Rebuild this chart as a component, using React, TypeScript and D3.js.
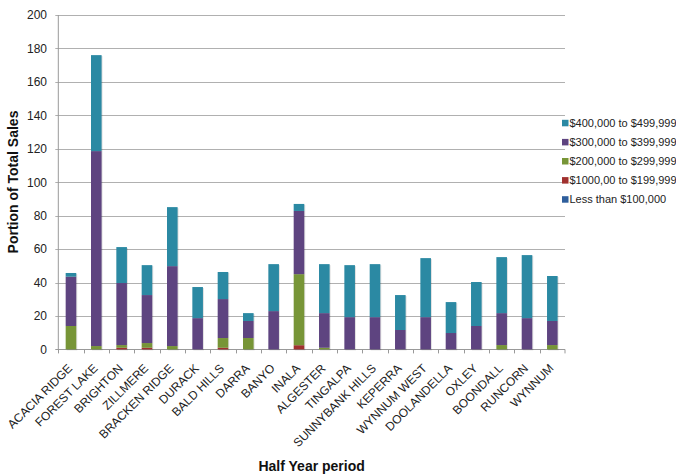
import React from "react";
import * as d3 from "d3";

const categories = [
  "ACACIA RIDGE", "FOREST LAKE", "BRIGHTON", "ZILLMERE", "BRACKEN RIDGE",
  "DURACK", "BALD HILLS", "DARRA", "BANYO", "INALA",
  "ALGESTER", "TINGALPA", "SUNNYBANK HILLS", "KEPERRA", "WYNNUM WEST",
  "DOOLANDELLA", "OXLEY", "BOONDALL", "RUNCORN", "WYNNUM",
];

const seriesNames = [
  "Less than $100,000",
  "$1000,00 to $199,999",
  "$200,000 to $299,999",
  "$300,000 to $399,999",
  "$400,000 to $499,999",
];

const lessThan100k = [0, 0, 0, 0, 0, 0, 0, 0, 0, 0, 0, 0, 0, 0, 0, 0, 0, 0, 0, 0];
const from100kTo199k = [0, 0, 1, 1, 0, 0, 1, 0, 0, 2.5, 0, 0, 0, 0, 0, 0, 0, 0, 0, 0];
const from200kTo299k = [14, 2, 1.6, 2.8, 2, 0, 5.8, 6.8, 0, 42.5, 1, 0, 0, 0, 0, 0, 0, 2.6, 0, 2.6];
const from300kTo399k = [29.5, 116.6, 37.1, 28.7, 47.8, 18.7, 23.3, 10.2, 22.9, 37.8, 20.7, 19.3, 19.3, 11.6, 19.3, 9.8, 14, 19.1, 18.7, 14.4];
const from400kTo499k = [2.2, 57.4, 21.5, 17.9, 35.3, 18.6, 16.2, 4.7, 28.1, 4.2, 29.3, 31.1, 31.7, 20.9, 35.3, 18.5, 26.3, 33.5, 37.7, 26.9];

const yTicks = [0, 20, 40, 60, 80, 100, 120, 140, 160, 180, 200];

const seriesValues = [lessThan100k, from100kTo199k, from200kTo299k, from300kTo399k, from400kTo499k];
const colors = ["#2E5E9C", "#A0302E", "#779537", "#5E4480", "#2B89A3"];

const W = 676;
const H = 476;
const plot = { left: 58.3, right: 565, top: 15, bottom: 349.4 };
const FONT = "'Liberation Sans', Arial, sans-serif";

export default function App() {
  const x = d3.scaleBand<string>().domain(categories).range([plot.left, plot.right]).padding(0);
  const y = d3.scaleLinear().domain([0, 200]).range([plot.bottom, plot.top]);

  const rows = categories.map((c, i) => {
    const r: any = { cat: c };
    seriesNames.forEach((s, k) => (r[s] = seriesValues[k][i]));
    return r;
  });
  const stacked = d3.stack<any>().keys(seriesNames)(rows);

  const bw = 10.6;
  const bandW = x.bandwidth();

  return (
    <svg width={W} height={H} style={{ position: "absolute", left: 0, top: 0, background: "#fff" }} fontFamily={FONT}>
      {/* gridlines */}
      {yTicks.map((t) => (
        <line key={"g" + t} x1={plot.left - 3} x2={plot.right} y1={Math.round(y(t)) + 0.5} y2={Math.round(y(t)) + 0.5}
          stroke={t === 0 ? "#999" : "#b0b0b0"} strokeWidth={1} />
      ))}
      {/* y axis line */}
      <line x1={plot.left} x2={plot.left} y1={plot.top} y2={plot.bottom + 0.5} stroke="#999" />
      {/* y tick labels */}
      {yTicks.map((t) => (
        <text key={"yl" + t} x={47} y={y(t) + 4.3} textAnchor="end" fontSize={12} fill="#222">{t}</text>
      ))}
      {/* x ticks */}
      {categories.map((c, i) => (
        <line key={"xt" + i} x1={Math.round(x(c)!) + 0.5} x2={Math.round(x(c)!) + 0.5} y1={plot.bottom} y2={plot.bottom + 4} stroke="#999" />
      ))}
      <line x1={plot.right} x2={plot.right} y1={plot.bottom} y2={plot.bottom + 4} stroke="#999" />
      {/* bar shadows */}
      {categories.map((c, i) => {
        const top = stacked[stacked.length - 1][i][1];
        const cx = x(c)! + bandW / 2;
        return (
          <rect key={"sh" + i} x={cx - bw / 2 + 1} y={y(top) + 1} width={bw} height={plot.bottom - y(top)} fill="#000" opacity={0.12} />
        );
      })}
      {/* bars */}
      {stacked.map((layer, k) => (
        <g key={"s" + k} fill={colors[k]}>
          {layer.map((d, i) => {
            const h = y(d[0]) - y(d[1]);
            if (h <= 0) return null;
            const cx = x(categories[i])! + bandW / 2;
            return <rect key={i} x={cx - bw / 2} y={y(d[1])} width={bw} height={h} />;
          })}
        </g>
      ))}
      {/* x labels */}
      {categories.map((c) => {
        const cx = x(c)! + bandW / 2 + 2;
        return (
          <text key={"xl" + c} transform={`translate(${cx},${369}) rotate(-45)`} textAnchor="end" fontSize={12} fill="#222">{c}</text>
        );
      })}
      {/* axis titles */}
      <text transform={`translate(18,182) rotate(-90)`} textAnchor="middle" fontSize={14} fontWeight="bold" fill="#111">Portion of Total Sales</text>
      <text x={(plot.left + plot.right) / 2} y={471} textAnchor="middle" fontSize={14} fontWeight="bold" fill="#111">Half Year period</text>
      {/* legend */}
      {[4, 3, 2, 1, 0].map((k, j) => {
        const cy = 123 + j * 19.1;
        return (
          <g key={"lg" + k}>
            <rect x={562} y={cy - 3.2} width={6.5} height={6.5} fill={colors[k]} />
            <text x={569.5} y={cy + 4} fontSize={11} fill="#222">{seriesNames[k]}</text>
          </g>
        );
      })}
    </svg>
  );
}
